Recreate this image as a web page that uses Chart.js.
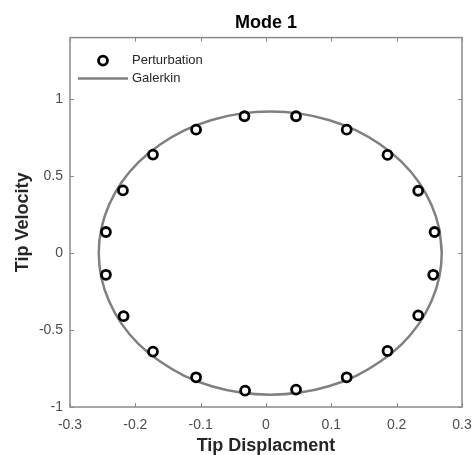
<!DOCTYPE html>
<html>
<head>
<meta charset="utf-8">
<script src="https://cdn.jsdelivr.net/npm/chart.js@4/dist/chart.umd.min.js"></script>
<style>
  html, body { margin: 0; padding: 0; background: #fff; }
  #wrap { width: 475px; height: 455px; }
</style>
</head>
<body>
<div id="wrap"><canvas id="modeChart"></canvas></div>
<script>
// Perturbation solution (sampled points on the orbit)
const pertX = [0.258, 0.233, 0.186, 0.1235, 0.046, -0.033, -0.107, -0.173, -0.219, -0.245,
               -0.245, -0.218, -0.173, -0.107, -0.032, 0.046, 0.1235, 0.186, 0.233, 0.256];
const pertY = [0.137, 0.405, 0.638, 0.802, 0.889, 0.889, 0.802, 0.640, 0.407, 0.137,
               -0.141, -0.410, -0.640, -0.807, -0.894, -0.887, -0.807, -0.636, -0.405, -0.141];

// Galerkin solution (closed orbit, last point repeats the start)
const galX = [0.269, 0.265, 0.253, 0.234, 0.208, 0.175, 0.138, 0.096, 0.052, 0.007,
              -0.039, -0.083, -0.125, -0.162, -0.195, -0.221, -0.240, -0.252, -0.256,
              -0.252, -0.240, -0.221, -0.195, -0.162, -0.125, -0.083, -0.039, 0.007,
              0.052, 0.096, 0.138, 0.175, 0.208, 0.234, 0.253, 0.265, 0.269, 0.265];
const galY = [0, 0.160, 0.315, 0.460, 0.591, 0.705, 0.797, 0.865, 0.906, 0.920,
              0.906, 0.865, 0.797, 0.705, 0.591, 0.460, 0.315, 0.160, 0,
              -0.160, -0.315, -0.460, -0.591, -0.705, -0.797, -0.865, -0.906, -0.920,
              -0.906, -0.865, -0.797, -0.705, -0.591, -0.460, -0.315, -0.160, 0, 0.160];

const xTicks = [-0.3, -0.2, -0.1, 0, 0.1, 0.2, 0.3];
const yTicks = [-1, -0.5, 0, 0.5, 1];

const FONT = "'Liberation Sans', Arial, Helvetica, sans-serif";

// box around the axes with inward tick marks on all four sides
const frame = {
    id: 'frame',
    beforeDatasetsDraw(chart) {
        const { ctx, chartArea: a, scales } = chart;
        const len = 4;
        ctx.save();
        ctx.strokeStyle = '#8a8a8a';
        ctx.lineWidth = 1.5;
        ctx.strokeRect(a.left, a.top, a.right - a.left, a.bottom - a.top);
        ctx.lineWidth = 1;
        ctx.beginPath();
        scales.x.ticks.forEach(t => {
            const px = Math.round(scales.x.getPixelForValue(t.value)) + 0.5;
            ctx.moveTo(px, a.bottom); ctx.lineTo(px, a.bottom - len);
            ctx.moveTo(px, a.top); ctx.lineTo(px, a.top + len);
        });
        scales.y.ticks.forEach(t => {
            const py = Math.round(scales.y.getPixelForValue(t.value)) + 0.5;
            ctx.moveTo(a.left, py); ctx.lineTo(a.left + len, py);
            ctx.moveTo(a.right, py); ctx.lineTo(a.right - len, py);
        });
        ctx.stroke();
        ctx.restore();
    },
    afterDatasetsDraw(chart) {
        // legend in the upper left corner of the axes
        const { ctx, chartArea: a } = chart;
        const pert = chart.data.datasets[0];
        const gal = chart.data.datasets[1];
        ctx.save();
        ctx.font = '13px ' + FONT;
        ctx.textBaseline = 'middle';

        ctx.beginPath();
        ctx.arc(a.left + 33, a.top + 23, pert.pointRadius, 0, Math.PI * 2);
        ctx.fillStyle = pert.pointBackgroundColor;
        ctx.fill();
        ctx.lineWidth = pert.pointBorderWidth;
        ctx.strokeStyle = pert.pointBorderColor;
        ctx.stroke();

        ctx.beginPath();
        ctx.moveTo(a.left + 8, a.top + 41);
        ctx.lineTo(a.left + 58, a.top + 41);
        ctx.lineWidth = gal.borderWidth;
        ctx.strokeStyle = gal.borderColor;
        ctx.stroke();

        ctx.fillStyle = '#262626';
        ctx.fillText(pert.label, a.left + 62, a.top + 23);
        ctx.fillText(gal.label, a.left + 62, a.top + 41);
        ctx.restore();
    }
};

const ctx = document.getElementById('modeChart');
new Chart(ctx, {
    type: 'scatter',
    data: {
        datasets: [{
            label: 'Perturbation',
            data: pertX.map((x, i) => ({ x: x, y: pertY[i] })),
            showLine: false,
            pointRadius: 4.5,
            pointBorderWidth: 2.8,
            pointBorderColor: '#000',
            pointBackgroundColor: '#fff',
            pointHoverRadius: 4.5
        }, {
            label: 'Galerkin',
            data: galX.map((x, i) => ({ x: x, y: galY[i] })),
            showLine: true,
            borderColor: '#808080',
            borderWidth: 2.5,
            tension: 0.35,
            pointRadius: 0,
            pointHoverRadius: 0
        }]
    },
    options: {
        responsive: true,
        maintainAspectRatio: false,
        animation: false,
        events: [],
        layout: {
            padding: { left: 0, right: 13, top: 0, bottom: 0 }
        },
        scales: {
            x: {
                type: 'linear',
                min: -0.3,
                max: 0.3,
                afterBuildTicks: s => { s.ticks = xTicks.map(v => ({ value: v })); },
                afterFit: s => { s.height = 48; s.paddingLeft = 0; s.paddingRight = 0; },
                grid: { display: false, drawTicks: false },
                border: { display: false },
                ticks: {
                    padding: 10,
                    color: '#4d4d4d',
                    font: { family: FONT, size: 14 },
                    callback: v => String(+v.toFixed(1))
                },
                title: {
                    display: true,
                    text: 'Tip Displacment',
                    color: '#262626',
                    font: { family: FONT, size: 18, weight: 'bold' },
                    padding: { top: 0, bottom: -2 }
                }
            },
            y: {
                type: 'linear',
                min: -1,
                max: 1.4,
                afterBuildTicks: s => { s.ticks = yTicks.map(v => ({ value: v })); },
                afterFit: s => { s.width = 70; s.paddingTop = 0; s.paddingBottom = 0; },
                grid: { display: false, drawTicks: false },
                border: { display: false },
                ticks: {
                    padding: 7,
                    color: '#4d4d4d',
                    font: { family: FONT, size: 14 },
                    callback: v => String(+v.toFixed(1))
                },
                title: {
                    display: true,
                    text: 'Tip Velocity',
                    color: '#262626',
                    font: { family: FONT, size: 18, weight: 'bold' },
                    padding: { top: 12, bottom: 0 }
                }
            }
        },
        plugins: {
            legend: { display: false },
            tooltip: { enabled: false },
            title: {
                display: true,
                fullSize: false,
                text: 'Mode 1',
                color: '#000',
                font: { family: FONT, size: 18, weight: 'bold' },
                padding: { top: 12, bottom: 4 }
            }
        }
    },
    plugins: [frame]
});
</script>
</body>
</html>
